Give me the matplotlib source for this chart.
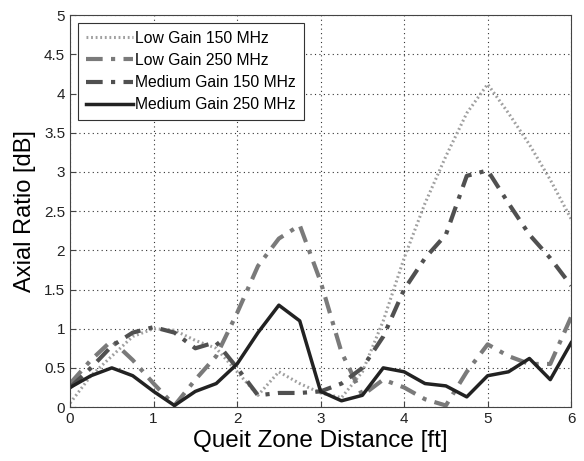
import numpy as np
import matplotlib.pyplot as plt

plt.rcParams['font.family'] = ['Liberation Sans', 'DejaVu Sans']

x = np.arange(0, 6.01, 0.25)

low_150 = [0.05, 0.4, 0.65, 0.9, 1.0, 0.98, 0.85, 0.75, 0.45, 0.15, 0.45, 0.3, 0.18,
           0.12, 0.45, 1.1, 1.9, 2.6, 3.2, 3.75, 4.12, 3.75, 3.35, 2.9, 2.4]
low_250 = [0.3, 0.6, 0.85, 0.6, 0.3, 0.02, 0.35, 0.65, 1.2, 1.8, 2.15, 2.32, 1.6,
           0.7, 0.15, 0.35, 0.25, 0.1, 0.02, 0.45, 0.8, 0.65, 0.55, 0.55, 1.15]
med_150 = [0.25, 0.5, 0.78, 0.95, 1.02, 0.95, 0.75, 0.83, 0.5, 0.15, 0.18, 0.18, 0.2,
           0.3, 0.5, 0.9, 1.5, 1.9, 2.2, 2.95, 3.02, 2.6, 2.2, 1.9, 1.55]
med_250 = [0.25, 0.4, 0.5, 0.4, 0.2, 0.02, 0.2, 0.3, 0.55, 0.95, 1.3, 1.1, 0.2,
           0.08, 0.15, 0.5, 0.45, 0.3, 0.27, 0.13, 0.4, 0.45, 0.62, 0.35, 0.82]

fig = plt.figure(figsize=(5.84, 4.61), dpi=100)
ax = fig.add_axes([0.12, 0.117, 0.858, 0.85])

ax.plot(x, low_150, color='#a0a0a0', lw=2.2, ls=(0, (0.6, 0.9)), label='Low Gain 150 MHz')
ax.plot(x, low_250, color='#7a7a7a', lw=3, ls=(0, (4, 2, 1, 2)), label='Low Gain 250 MHz')
ax.plot(x, med_150, color='#505050', lw=3, ls=(0, (4, 2, 1, 2)), label='Medium Gain 150 MHz')
ax.plot(x, med_250, color='#222222', lw=2.5, ls='-', label='Medium Gain 250 MHz')

ax.set_xlim(0, 6)
ax.set_ylim(0, 5)
ax.set_xticks(np.arange(0, 7, 1))
ax.set_yticks(np.arange(0, 5.01, 0.5))
ax.set_yticklabels(['0', '0.5', '1', '1.5', '2', '2.5', '3', '3.5', '4', '4.5', '5'])
ax.tick_params(direction='in', labelsize=11, length=4, color='#444444', labelcolor='#222222')
ax.grid(True, color='#333333', ls=(0, (1, 3)), lw=0.8)
for s in ax.spines.values():
    s.set_color('#444444')

ax.set_xlabel('Queit Zone Distance [ft]', fontsize=17.5, labelpad=3)
ax.set_ylabel('Axial Ratio [dB]', fontsize=17, labelpad=6)

leg = ax.legend(loc='upper left', fontsize=11.3, fancybox=False, framealpha=1,
                edgecolor='#333333', handlelength=3.0, handletextpad=0.15,
                borderaxespad=0.5, labelspacing=0.45, borderpad=0.5)
leg.get_frame().set_linewidth(0.8)

fig.savefig('out.png', dpi=100)
